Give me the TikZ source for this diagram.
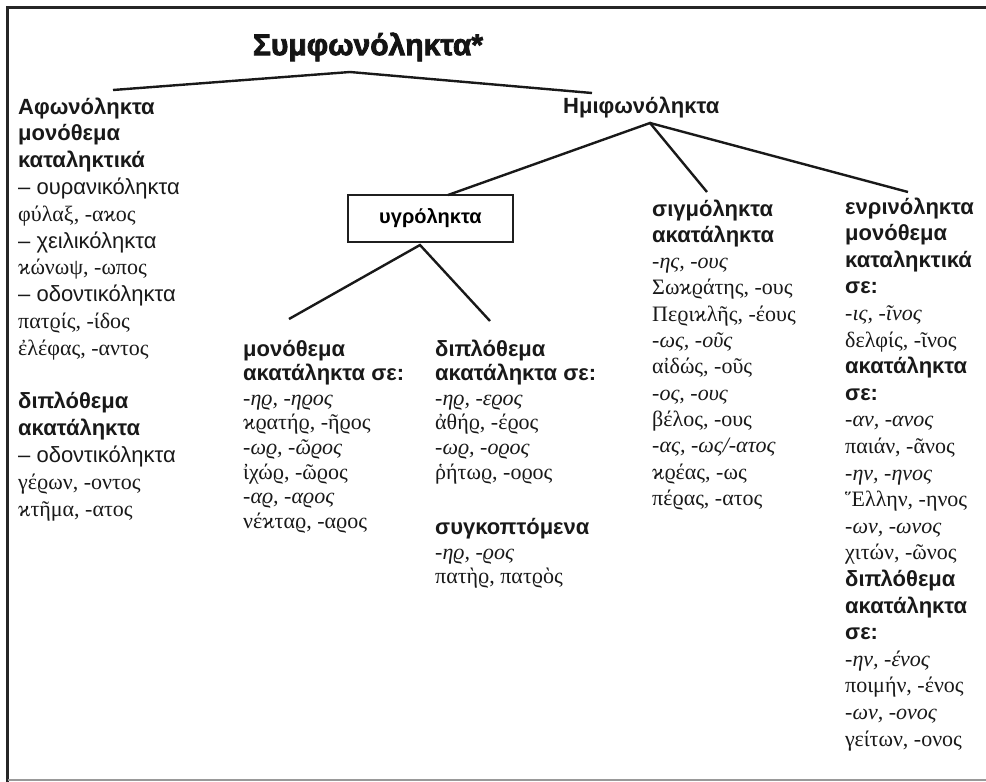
\documentclass[tikz,border=0pt]{standalone}
\usepackage{fontspec}
\setmainfont{Liberation Serif}
\setsansfont{Liberation Sans}
\newfontface\titlefont{Liberation Sans Bold}[FakeBold=2.5]
\newcommand\mkhd[1]{{\sffamily\bfseries #1}}
\newcommand\mksf[1]{{\sffamily #1}}
\newcommand\mkit[1]{{\itshape #1}}
\begin{document}
\begin{tikzpicture}[x=1pt,y=-1pt,
  conn/.style={line width=2.4pt, draw=black!90},
  colA/.style={anchor=base west, inner sep=0pt, text=black!90},
  boxst/.style={draw=black!88, line width=1.2pt, minimum width=165pt, minimum height=47pt, inner sep=0pt, font=\fontsize{20}{24}\sffamily\bfseries},
  titlest/.style={inner sep=0pt, font=\fontsize{30}{34}\titlefont, text=black!92}]
\useasboundingbox (0,0) rectangle (986,782);
\fill[white] (0,0) rectangle (986,782);
\draw[line width=3pt, black!85] (986,7.5) -- (7.5,7.5) -- (7.5,782);
\draw[line width=2pt, black!40] (7.5,780) -- (986,780);

\node[titlest] (title) at (368,47) {Συμφωνόληκτα*};
\node[colA, font=\fontsize{22}{26}\sffamily\bfseries] (hemi) at (563,113) {Ημιφωνόληκτα};
\node[boxst] (ugro) at (430.5,218.5) {υγρόληκτα};

\node[colA] (c1) at (18,114) {\parbox[t]{215pt}{\fontsize{22}{26.8}\selectfont\raggedright
\mkhd{Αφωνόληκτα}\\
\mkhd{μονόθεμα}\\
\mkhd{καταληκτικά}\\
\mksf{– ουρανικόληκτα}\\
φύλαξ, -αϰος\\
\mksf{– χειλικόληκτα}\\
ϰώνωψ, -ωπος\\
\mksf{– οδοντικόληκτα}\\
πατϱίς, -ίδος\\
ἐλέφας, -αντος\\[26.8pt]
\mkhd{διπλόθεμα}\\
\mkhd{ακατάληκτα}\\
\mksf{– οδοντικόληκτα}\\
γέϱων, -οντος\\
ϰτῆμα, -ατος}};

\node[colA] (c2) at (243,356) {\parbox[t]{190pt}{\fontsize{22}{24.6}\selectfont\raggedright
\mkhd{μονόθεμα}\\
\mkhd{ακατάληκτα σε:}\\
\mkit{-ηϱ, -ηϱος}\\
ϰϱατήϱ, -ῆϱος\\
\mkit{-ωϱ, -ῶϱος}\\
ἰχώϱ, -ῶϱος\\
\mkit{-αϱ, -αϱος}\\
νέϰταϱ, -αϱος}};

\node[colA] (c3) at (435,356) {\parbox[t]{200pt}{\fontsize{22}{24.6}\selectfont\raggedright
\mkhd{διπλόθεμα}\\
\mkhd{ακατάληκτα σε:}\\
\mkit{-ηϱ, -εϱος}\\
ἀθήϱ, -έϱος\\
\mkit{-ωϱ, -οϱος}\\
ῥήτωϱ, -οϱος\\[31pt]
\mkhd{συγκοπτόμενα}\\
\mkit{-ηϱ, -ϱος}\\
πατὴϱ, πατϱὸς}};

\node[colA] (c4) at (652,216) {\parbox[t]{190pt}{\fontsize{22}{26.3}\selectfont\raggedright
\mkhd{σιγμόληκτα}\\
\mkhd{ακατάληκτα}\\
\mkit{-ης, -ους}\\
Σωϰϱάτης, -ους\\
Πεϱιϰλῆς, -έους\\
\mkit{-ως, -οῦς}\\
αἰδώς, -οῦς\\
\mkit{-ος, -ους}\\
βέλος, -ους\\
\mkit{-ας, -ως/-ατος}\\
ϰϱέας, -ως\\
πέϱας, -ατος}};

\node[colA] (c5) at (845,214) {\parbox[t]{140pt}{\fontsize{22}{26.6}\selectfont\raggedright
\mkhd{ενρινόληκτα}\\
\mkhd{μονόθεμα}\\
\mkhd{καταληκτικά}\\
\mkhd{σε:}\\
\mkit{-ις, -ῖνος}\\
δελφίς, -ῖνος\\
\mkhd{ακατάληκτα}\\
\mkhd{σε:}\\
\mkit{-αν, -ανος}\\
παιάν, -ᾶνος\\
\mkit{-ην, -ηνος}\\
Ἕλλην, -ηνος\\
\mkit{-ων, -ωνος}\\
χιτών, -ῶνος\\
\mkhd{διπλόθεμα}\\
\mkhd{ακατάληκτα}\\
\mkhd{σε:}\\
\mkit{-ην, -ένος}\\
ποιμήν, -ένος\\
\mkit{-ων, -ονος}\\
γείτων, -ονος}};

\coordinate (ta) at (350,72);
\coordinate (tl) at (113,90);
\coordinate (tr) at (592,93);
\coordinate (ha) at (650,123);
\coordinate (ub) at (448,195);
\coordinate (ua) at (420,245);
\coordinate (c2t) at (289,319);
\coordinate (c3t) at (490,321);
\coordinate (c4t) at (707,192);
\coordinate (c5t) at (908,192);

\draw[conn] (tl) -- (ta) -- (tr);
\draw[conn] (ub) -- (ha) -- (c4t);
\draw[conn] (ha) -- (c5t);
\draw[conn] (c2t) -- (ua) -- (c3t);
\end{tikzpicture}
\end{document}
